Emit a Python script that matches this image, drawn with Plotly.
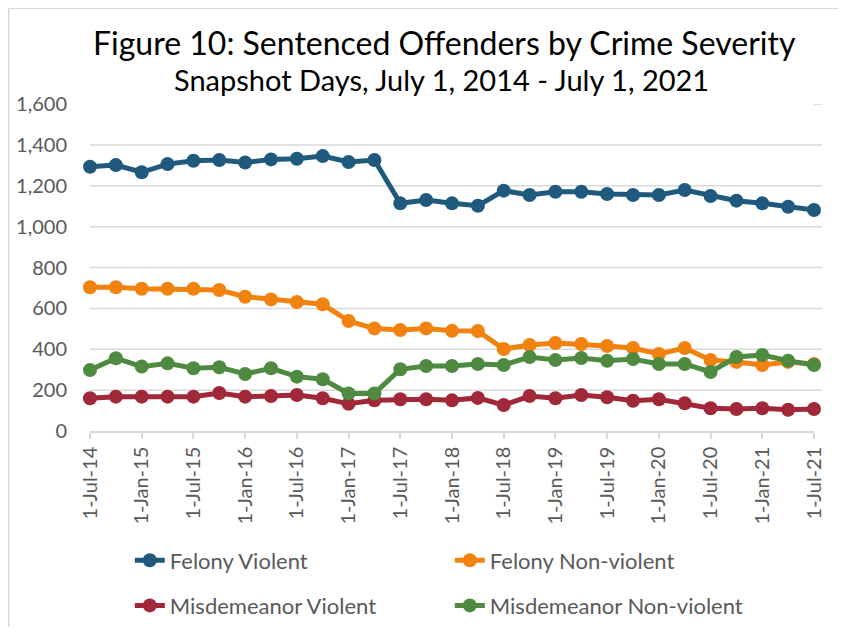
import plotly.graph_objects as go

dates = ["1-Jul-14", "1-Oct-14", "1-Jan-15", "1-Apr-15", "1-Jul-15", "1-Oct-15",
         "1-Jan-16", "1-Apr-16", "1-Jul-16", "1-Oct-16", "1-Jan-17", "1-Apr-17",
         "1-Jul-17", "1-Oct-17", "1-Jan-18", "1-Apr-18", "1-Jul-18", "1-Oct-18",
         "1-Jan-19", "1-Apr-19", "1-Jul-19", "1-Oct-19", "1-Jan-20", "1-Apr-20",
         "1-Jul-20", "1-Oct-20", "1-Jan-21", "1-Apr-21", "1-Jul-21"]

felony_violent = [1293, 1301, 1266, 1306, 1322, 1326, 1314, 1329, 1332, 1345, 1316, 1326,
                  1114, 1130, 1114, 1102, 1176, 1155, 1171, 1171, 1160, 1155, 1155, 1179,
                  1150, 1127, 1114, 1097, 1081]
felony_nonviolent = [703, 703, 696, 696, 696, 690, 657, 644, 631, 620, 538, 502,
                     494, 502, 490, 489, 401, 421, 430, 426, 416, 406, 377, 406,
                     347, 338, 323, 338, 328]
misd_violent = [160, 168, 168, 168, 168, 186, 168, 171, 176, 160, 133, 150,
                155, 155, 150, 162, 127, 171, 160, 176, 165, 148, 155, 136,
                111, 108, 111, 104, 108]
misd_nonviolent = [298, 356, 315, 331, 307, 312, 279, 307, 266, 253, 184, 184,
                   302, 318, 318, 328, 323, 362, 347, 357, 344, 352, 328, 328,
                   289, 362, 372, 344, 323]

tick_labels = dates[::2]
grid_values = [200, 400, 600, 800, 1000, 1200, 1400]

series = [
    ("Felony Violent", felony_violent, "#1F5A7E", "legend"),
    ("Felony Non-violent", felony_nonviolent, "#F2820F", "legend"),
    ("Misdemeanor Violent", misd_violent, "#A02839", "legend2"),
    ("Misdemeanor Non-violent", misd_nonviolent, "#4E8A3F", "legend2"),
]

fig = go.Figure()
for name, vals, color, lg in series:
    fig.add_trace(go.Scatter(
        x=dates, y=vals, name=name, mode="lines+markers",
        line=dict(color=color, width=5),
        marker=dict(color=color, size=14),
        cliponaxis=False, legend=lg,
    ))

shapes = []
for g in grid_values:
    shapes.append(dict(type="line", xref="paper", yref="y", x0=0, x1=1.011, y0=g, y1=g,
                       line=dict(color="#D9D9D9", width=1.5), layer="below"))
shapes.append(dict(type="line", xref="paper", yref="y", x0=1.0, x1=1.011, y0=1600, y1=1600,
                   line=dict(color="#D9D9D9", width=1.5), layer="below"))
shapes.append(dict(type="rect", xref="paper", yref="paper", x0=-0.1122, x1=1.2, y0=-0.7, y1=1.2925,
                   line=dict(color="#D9D9D9", width=1.5), layer="below"))

font_family = "Lato, 'Open Sans', sans-serif"

fig.update_layout(
    width=830, height=619,
    margin=dict(l=82, r=24, t=96, b=196, autoexpand=False),
    paper_bgcolor="white", plot_bgcolor="white",
    font=dict(family=font_family, color="#595959"),
    showlegend=True,
    shapes=shapes,
    annotations=[
        dict(text="Figure 10: Sentenced Offenders by Crime Severity", xref="paper", yref="paper",
             x=0.49, y=1.1896, showarrow=False, font=dict(size=32, color="#000000", family=font_family),
             xanchor="center", yanchor="middle"),
        dict(text="Snapshot Days, July 1, 2014 - July 1, 2021", xref="paper", yref="paper",
             x=0.486, y=1.0734, showarrow=False, font=dict(size=29, color="#000000", family=font_family),
             xanchor="center", yanchor="middle"),
    ],
    legend=dict(orientation="h", x=0.055, y=-0.396, xanchor="left", yanchor="middle",
                entrywidth=275, entrywidthmode="pixels",
                font=dict(size=22, color="#595959"), bgcolor="rgba(0,0,0,0)"),
    legend2=dict(orientation="h", x=0.055, y=-0.534, xanchor="left", yanchor="middle",
                 entrywidth=275, entrywidthmode="pixels",
                 font=dict(size=22, color="#595959"), bgcolor="rgba(0,0,0,0)"),
)

fig.update_xaxes(
    type="category", range=[0, len(dates) - 1], automargin=False,
    tickmode="array", tickvals=tick_labels, ticktext=tick_labels,
    tickangle=-90, tickfont=dict(size=20, color="#595959"),
    showgrid=False, showline=True, linecolor="#D9D9D9", linewidth=1.5,
    ticks="outside", ticklen=6, tickcolor="#D9D9D9", tickwidth=1.5,
    zeroline=False,
)
fig.update_yaxes(
    range=[0, 1600], tickvals=[0, 200, 400, 600, 800, 1000, 1200, 1400, 1600],
    tickformat=",d", tickfont=dict(size=20, color="#595959"), automargin=False,
    showgrid=False, zeroline=False, showline=False, ticks="",
    ticklabelstandoff=22,
)

fig.write_html("out.html")
